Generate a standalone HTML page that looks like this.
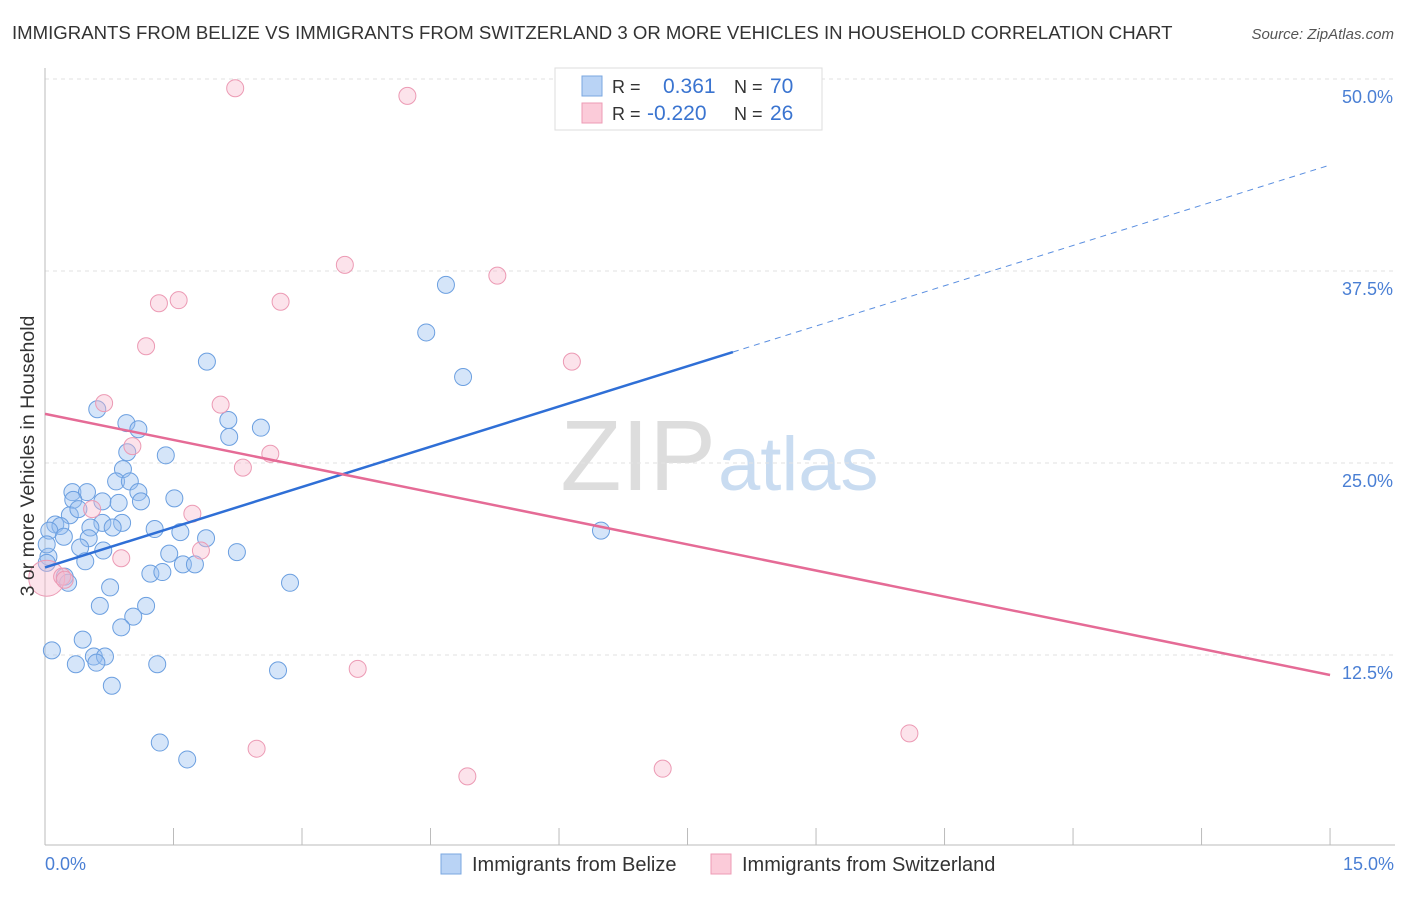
<!DOCTYPE html>
<html><head><meta charset="utf-8"><style>
body{margin:0;background:#fff;font-family:"Liberation Sans",sans-serif;}
svg text{font-family:"Liberation Sans",sans-serif;}
</style></head><body>
<svg id="chart" width="1406" height="892">
<text x="12" y="39" font-size="18.6" fill="#333">IMMIGRANTS FROM BELIZE VS IMMIGRANTS FROM SWITZERLAND 3 OR MORE VEHICLES IN HOUSEHOLD CORRELATION CHART</text>
<text x="1394" y="39" font-size="15" fill="#555" font-style="italic" text-anchor="end">Source: ZipAtlas.com</text>
<text x="716" y="490" font-size="100" fill="#ddd" text-anchor="end" font-family="Liberation Serif">ZIP</text>
<text x="718" y="490" font-size="76" fill="#c9dcf1">atlas</text>
<g id="grid"></g>
<g id="axes"></g>
<g id="pts"></g>
<g id="lines"></g>
<text transform="translate(34,456) rotate(-90)" font-size="19.5" fill="#333" text-anchor="middle">3 or more Vehicles in Household</text>
<text x="45" y="870" font-size="18" fill="#4a7fd4">0.0%</text>
<text x="1394" y="870" font-size="18" fill="#4a7fd4" text-anchor="end">15.0%</text>
<g>
<rect x="555" y="68" width="267" height="62" fill="#fff" stroke="#ddd"/>
<rect x="582" y="76" width="20" height="20" fill="#b9d3f5" stroke="#7aa7e0"/>
<rect x="582" y="103" width="20" height="20" fill="#fbcbd9" stroke="#ee9bb5"/>
<text x="612" y="93" font-size="18" fill="#333">R = </text><text x="663" y="93" font-size="21" fill="#3a74d0">0.361</text>
<text x="734" y="93" font-size="18" fill="#333">N = </text><text x="770" y="93" font-size="21" fill="#3a74d0">70</text>
<text x="612" y="120" font-size="18" fill="#333">R = </text><text x="647" y="120" font-size="21" fill="#3a74d0">-0.220</text>
<text x="734" y="120" font-size="18" fill="#333">N = </text><text x="770" y="120" font-size="21" fill="#3a74d0">26</text>
</g>
<g><rect x="441" y="854" width="20" height="20" fill="#b9d3f5" stroke="#7aa7e0"/><text x="472" y="871" font-size="20" fill="#333">Immigrants from Belize</text></g>
<g><rect x="711" y="854" width="20" height="20" fill="#fbcbd9" stroke="#ee9bb5"/><text x="742" y="871" font-size="20" fill="#333">Immigrants from Switzerland</text></g>
</svg>
<script>
const blueX=[0.61,0.95,1.09,0.96,1.41,0.91,0.83,0.99,0.32,0.49,1.09,0.67,0.86,1.12,1.51,0.33,0.29,0.39,0.90,0.67,0.12,0.18,0.53,0.79,1.28,1.58,0.05,0.22,0.51,1.88,0.41,0.68,1.45,2.24,0.04,0.47,0.02,1.23,1.37,1.61,1.75,0.23,0.27,0.76,2.86,0.64,1.18,1.03,0.89,0.44,0.08,0.57,0.70,0.36,0.60,1.31,2.72,0.78,1.34,1.66,6.49,1.89,2.14,2.15,2.52,4.68,4.45,4.88,0.02];
const blueY=[28.5,27.6,27.2,25.7,25.5,24.6,23.8,23.8,23.1,23.1,23.1,22.5,22.4,22.5,22.7,22.6,21.6,22.0,21.1,21.1,21.0,20.9,20.8,20.8,20.7,20.5,20.6,20.2,20.1,20.1,19.5,19.3,19.1,19.2,18.9,18.6,18.5,17.8,17.9,18.4,18.4,17.6,17.2,16.9,17.2,15.7,15.7,15.0,14.3,13.5,12.8,12.4,12.4,11.9,12.0,11.9,11.5,10.5,6.8,5.7,20.6,31.6,27.8,26.7,27.3,36.6,33.5,30.6,19.7];
const pinkX=[2.22,4.23,3.50,5.28,1.33,1.56,2.75,1.18,6.15,0.69,2.05,1.02,2.31,2.63,0.55,1.72,1.82,0.89,0.02,0.20,0.23,3.65,2.47,4.93,7.21,10.09];
const pinkY=[49.4,48.9,37.9,37.2,35.4,35.6,35.5,32.6,31.6,28.9,28.8,26.1,24.7,25.6,22.0,21.7,19.3,18.8,17.5,17.6,17.4,11.6,6.4,4.6,5.1,7.4];
const yTicks=[12.5,25.0,37.5,50.0];
const xTicks=[0,1.5,3,4.5,6,7.5,9,10.5,12,13.5,15];
const blueTrend=[18.2,44.4];
const blueSolidEnd=8.03;
const pinkTrend=[28.2,11.2];
const NS='http://www.w3.org/2000/svg';
const sx=v=>45+v*85.67, sy=v=>847-v*15.36;
function mk(t,a,p){const e=document.createElementNS(NS,t);for(const k in a)e.setAttribute(k,a[k]);p.appendChild(e);return e;}
const grid=document.getElementById('grid'),axes=document.getElementById('axes'),pts=document.getElementById('pts'),lines=document.getElementById('lines');
yTicks.forEach(v=>{
 const l=mk('line',{x1:45,x2:1395,y1:sy(v),y2:sy(v),stroke:'#e2e2e2','stroke-dasharray':'4,4'},grid);
 
 
 const t=mk('text',{x:1393,y:sy(v)+24,'font-size':18,fill:'#4a7fd4','text-anchor':'end'},grid);t.textContent=v.toFixed(1)+'%';
 
 
});
const ya=mk('line',{x1:45,x2:45,y1:68,y2:845,stroke:'#bbb'},axes);


const xa=mk('line',{x1:45,x2:1395,y1:845,y2:845,stroke:'#bbb'},axes);


xTicks.forEach(v=>{const l=mk('line',{x1:sx(v),x2:sx(v),y1:828,y2:845,stroke:'#bbb'},axes);
 
 });
blueX.forEach((x,i)=>{const c=mk('circle',{cx:sx(x),cy:sy(blueY[i]),r:8.5,fill:'rgba(150,190,240,0.4)',stroke:'#6b9fe0','stroke-width':1},pts);
 
 });
pinkX.forEach((x,i)=>{const c=mk('circle',{cx:sx(x),cy:sy(pinkY[i]),r:i==18?18:8.5,fill:'rgba(248,185,205,0.4)',stroke:'#ec9ab4','stroke-width':1},pts);
 
 });
const by=x=>blueTrend[0]+(blueTrend[1]-blueTrend[0])*x/15;
const b1=mk('line',{x1:sx(0),y1:sy(by(0)),x2:sx(blueSolidEnd),y2:sy(by(blueSolidEnd)),stroke:'#2f6fd6','stroke-width':2.5},lines);


const b2=mk('line',{x1:sx(blueSolidEnd),y1:sy(by(blueSolidEnd)),x2:sx(15),y2:sy(by(15)),stroke:'#5b8fe0','stroke-width':1,'stroke-dasharray':'6,5'},lines);


const p1=mk('line',{x1:sx(0),y1:sy(pinkTrend[0]),x2:sx(15),y2:sy(pinkTrend[1]),stroke:'#e56b96','stroke-width':2.5},lines);


</script>
</body></html>
